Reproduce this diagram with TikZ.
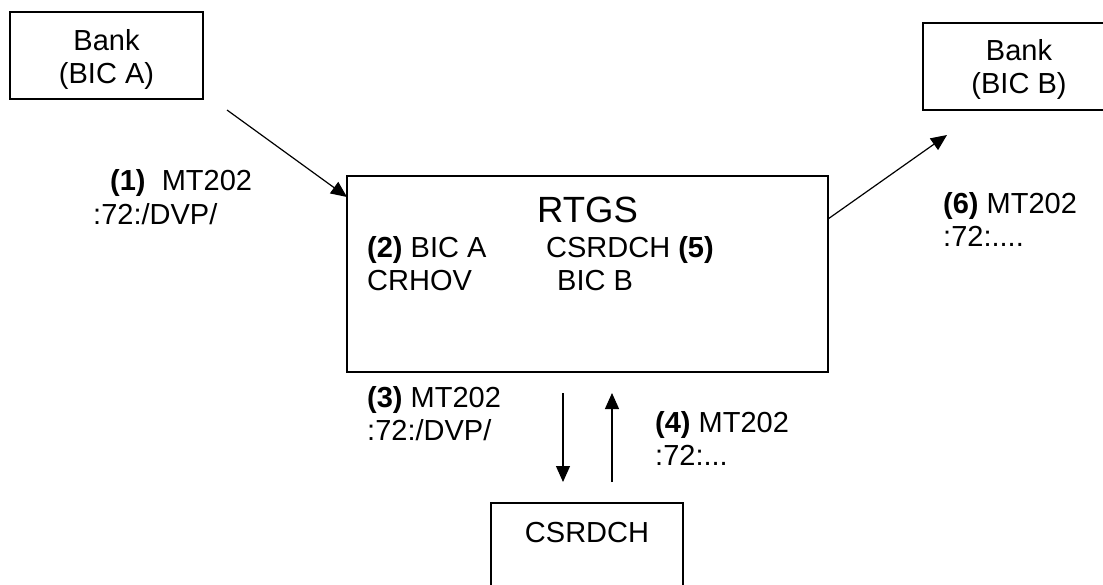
\documentclass[tikz,border=0pt]{standalone}
\usepackage{fontspec}
\setmainfont{Liberation Sans}
\usetikzlibrary{arrows.meta}
\begin{document}
\begin{tikzpicture}[x=1pt,y=-1pt,
  box/.style={draw,line width=1.2pt,rectangle,inner sep=0pt,align=center,
    font=\fontsize{29}{33}\selectfont},
  txt/.style={inner sep=0pt,anchor=base west,font=\fontsize{29}{33}\selectfont},
  arr/.style={line width=1.2pt,-{Triangle[length=16pt,width=14pt]}}]
\useasboundingbox (0,0) rectangle (1103,584);
\clip (0,0) rectangle (1103,584);
% boxes
\node[box,minimum width=193pt,minimum height=87pt] (bankA) at (106.5,55.5) {};
\node[box,minimum width=192pt,minimum height=87pt] (bankB) at (1019,66.5) {};
\node[box,minimum width=481pt,minimum height=196pt] (rtgs) at (587.5,274) {};
\node[box,minimum width=192pt,minimum height=120pt] (csd) at (587,563) {};
% texts in boxes
\node[inner sep=0pt,anchor=base,font=\fontsize{29}{33}\selectfont] (bankAt1) at (106.5,50) {Bank};
\node[inner sep=0pt,anchor=base,font=\fontsize{29}{33}\selectfont] (bankAt2) at (106.5,83) {(BIC A)};
\node[inner sep=0pt,anchor=base,font=\fontsize{29}{33}\selectfont] (bankBt1) at (1019,60) {Bank};
\node[inner sep=0pt,anchor=base,font=\fontsize{29}{33}\selectfont] (bankBt2) at (1019,93) {(BIC B)};
\node[inner sep=0pt,anchor=base,font=\fontsize{36.5}{40}\selectfont] (rtgst) at (587.5,222) {RTGS};
\node[txt] (t2a) at (367,257) {\textbf{(2)} BIC A};
\node[txt] (t2b) at (367,290) {CRHOV};
\node[txt] (t5a) at (546,257) {CSRDCH \textbf{(5)}};
\node[txt] (t5b) at (557,290) {BIC B};
\node[inner sep=0pt,anchor=base,font=\fontsize{29}{33}\selectfont] (csdt) at (587,542) {CSRDCH};
% labels
\node[txt] (l1a) at (110,190) {\textbf{(1)}~ MT202};
\node[txt] (l1b) at (93,224) {:72:/DVP/};
\node[txt] (l3a) at (367,407) {\textbf{(3)} MT202};
\node[txt] (l3b) at (367,440) {:72:/DVP/};
\node[txt] (l4a) at (655,432) {\textbf{(4)} MT202};
\node[txt] (l4b) at (655,465) {:72:...};
\node[txt] (l6a) at (943,213) {\textbf{(6)} MT202};
\node[txt] (l6b) at (943,246) {:72:....};
% connector ends
\coordinate (a1s) at (227,110);
\coordinate (a1e) at (347,197);
\coordinate (a6s) at (828,219);
\coordinate (a6e) at (947,135);
\coordinate (a3s) at (563,393);
\coordinate (a3e) at (563,482);
\coordinate (a4s) at (612,482);
\coordinate (a4e) at (612,393);
\draw[arr] (a1s) -- (a1e);
\draw[arr] (a6s) -- (a6e);
\draw[arr] (a3s) -- (a3e);
\draw[arr] (a4s) -- (a4e);
\end{tikzpicture}
\end{document}
